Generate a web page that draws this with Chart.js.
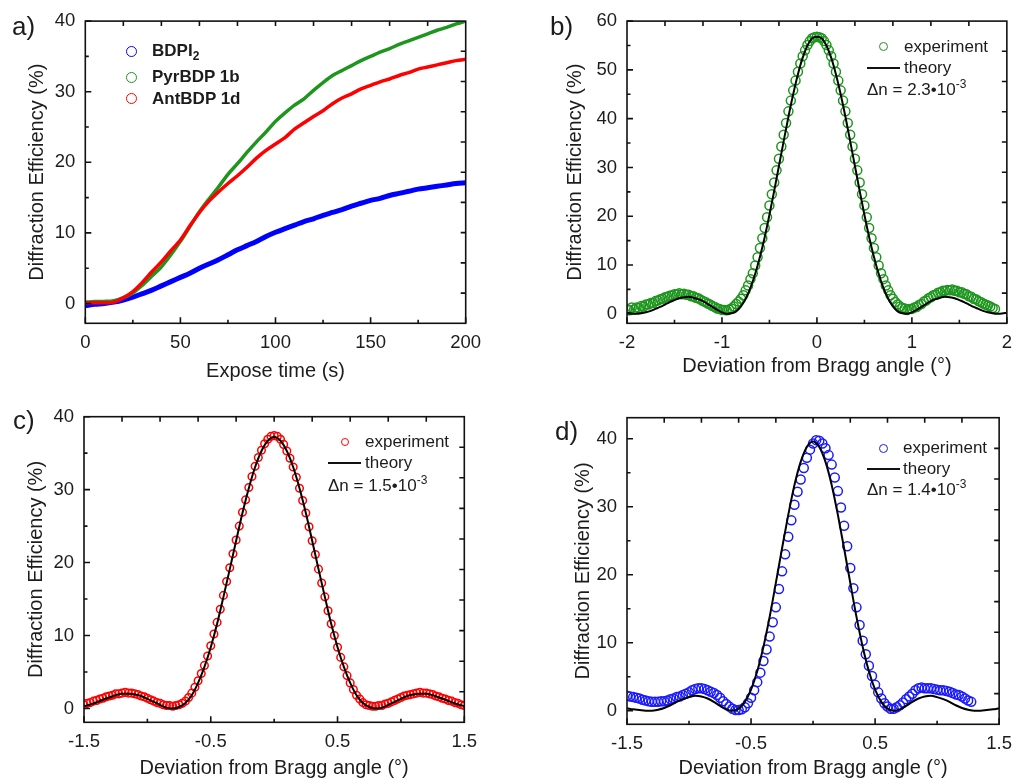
<!DOCTYPE html>
<html>
<head>
<meta charset="utf-8">
<title>Diffraction efficiency</title>
<script src="https://cdn.jsdelivr.net/npm/chart.js@4.4.1/dist/chart.umd.min.js"></script>
<style>
  body {
    margin: 0; width: 1021px; height: 779px; overflow: hidden; background: #fff;
    font-family: "Liberation Sans", Arial, sans-serif; color: #1c1c1c; position: relative;
  }
  canvas { position: absolute; }
  .tag { position: absolute; font-size: 26px; line-height: 26px; }
  .key { position: absolute; font-size: 17px; line-height: 20px; white-space: nowrap; }
  .bold { font-weight: bold; }
  .ring { position: absolute; box-sizing: border-box; border: 1.6px solid; border-radius: 50%; }
  .dash { position: absolute; height: 2.4px; background: #111; }
  sub { font-size: 12px; vertical-align: -4px; line-height: 0; }
  sup { font-size: 12px; vertical-align: 7px; line-height: 0; }
</style>
</head>
<body>
<canvas id="chartA" width="500" height="390" style="left:0;top:0"></canvas>
<canvas id="chartB" width="521" height="390" style="left:500px;top:0"></canvas>
<canvas id="chartC" width="500" height="400" style="left:0;top:390px"></canvas>
<canvas id="chartD" width="521" height="400" style="left:500px;top:390px"></canvas>

<div class="tag" style="left:12px;top:13px">a)</div>
<div class="tag" style="left:550px;top:13px">b)</div>
<div class="tag" style="left:13px;top:407px">c)</div>
<div class="tag" style="left:555px;top:418px">d)</div>

<!-- a) legend -->
<div class="ring" style="left:126px;top:46px;width:11px;height:11px;border-color:#0000ff"></div>
<div class="key bold" style="left:152px;top:41px">BDPI<sub>2</sub></div>
<div class="ring" style="left:126px;top:72px;width:11px;height:11px;border-color:#1e961e"></div>
<div class="key bold" style="left:152px;top:67px">PyrBDP 1b</div>
<div class="ring" style="left:126px;top:93px;width:11px;height:11px;border-color:#ff0000"></div>
<div class="key bold" style="left:152px;top:89px">AntBDP 1d</div>

<!-- b) legend -->
<div class="ring" style="left:879px;top:42px;width:9px;height:9px;border-color:#1e961e"></div>
<div class="key" style="left:904px;top:37px">experiment</div>
<div class="dash" style="left:867px;top:66.5px;width:33px"></div>
<div class="key" style="left:904px;top:58px">theory</div>
<div class="key" style="left:867px;top:80px">Δn = 2.3•10<sup>-3</sup></div>

<!-- c) legend -->
<div class="ring" style="left:341px;top:438px;width:8px;height:8px;border-color:#ff0000"></div>
<div class="key" style="left:365px;top:432px">experiment</div>
<div class="dash" style="left:328px;top:461.5px;width:33px"></div>
<div class="key" style="left:365px;top:453px">theory</div>
<div class="key" style="left:328px;top:476px">Δn = 1.5•10<sup>-3</sup></div>

<!-- d) legend -->
<div class="ring" style="left:879px;top:444px;width:9px;height:9px;border-color:#1a1aff"></div>
<div class="key" style="left:903px;top:438px">experiment</div>
<div class="dash" style="left:867px;top:468px;width:33px"></div>
<div class="key" style="left:903px;top:459px">theory</div>
<div class="key" style="left:867px;top:480px">Δn = 1.4•10<sup>-3</sup></div>

<script>
// ---- a) diffraction efficiency vs. exposure time ----
const exposeTime = [0, 5, 10, 15, 20, 25, 30, 35, 40, 45, 50, 55, 60, 65, 70, 75, 80, 85, 90, 95,
  100, 105, 110, 115, 120, 125, 130, 135, 140, 145, 150, 155, 160, 165, 170, 175, 180, 185, 190, 195, 200];
const bdpi2 = [-0.3, -0.1, 0.0, 0.2, 0.5, 0.9, 1.4, 1.9, 2.5, 3.1, 3.7, 4.3, 5.0, 5.6, 6.2, 6.9, 7.6, 8.2, 8.8, 9.5,
  10.1, 10.6, 11.1, 11.6, 12.0, 12.5, 12.9, 13.3, 13.8, 14.2, 14.6, 14.9, 15.3, 15.6, 15.9, 16.2, 16.4, 16.6, 16.8, 17.0, 17.1];
const pyrBDP = [0.2, 0.3, 0.3, 0.4, 0.85, 1.5, 2.6, 3.9, 5.2, 6.9, 8.8, 10.9, 13.0, 14.8, 16.5, 18.3, 19.8, 21.4, 22.9, 24.3,
  25.8, 27.0, 28.1, 29.0, 30.2, 31.3, 32.3, 33.0, 33.7, 34.4, 35.0, 35.6, 36.1, 36.7, 37.2, 37.7, 38.2, 38.7, 39.1, 39.6, 40.0];
const antBDP = [0.1, 0.1, 0.1, 0.2, 0.8, 1.7, 3.0, 4.5, 5.9, 7.5, 9.0, 11.0, 12.9, 14.5, 15.8, 17.0, 18.1, 19.3, 20.6, 21.7,
  22.6, 23.5, 24.7, 25.6, 26.5, 27.3, 28.3, 29.1, 29.7, 30.4, 30.9, 31.4, 31.8, 32.3, 32.7, 33.2, 33.5, 33.8, 34.1, 34.4, 34.6];

// ---- angular scans b), c), d) ----
// measured points sit on a 0.025° grid, theory on a 0.05° grid
const fineAngle = [
  -2, -1.975, -1.95, -1.925, -1.9, -1.875, -1.85, -1.825, -1.8, -1.775, -1.75, -1.725, -1.7, -1.675, -1.65, -1.625, -1.6, -1.575, -1.55, -1.525,
  -1.5, -1.475, -1.45, -1.425, -1.4, -1.375, -1.35, -1.325, -1.3, -1.275, -1.25, -1.225, -1.2, -1.175, -1.15, -1.125, -1.1, -1.075, -1.05, -1.025,
  -1, -0.975, -0.95, -0.925, -0.9, -0.875, -0.85, -0.825, -0.8, -0.775, -0.75, -0.725, -0.7, -0.675, -0.65, -0.625, -0.6, -0.575, -0.55, -0.525,
  -0.5, -0.475, -0.45, -0.425, -0.4, -0.375, -0.35, -0.325, -0.3, -0.275, -0.25, -0.225, -0.2, -0.175, -0.15, -0.125, -0.1, -0.075, -0.05, -0.025,
  0, 0.025, 0.05, 0.075, 0.1, 0.125, 0.15, 0.175, 0.2, 0.225, 0.25, 0.275, 0.3, 0.325, 0.35, 0.375, 0.4, 0.425, 0.45, 0.475,
  0.5, 0.525, 0.55, 0.575, 0.6, 0.625, 0.65, 0.675, 0.7, 0.725, 0.75, 0.775, 0.8, 0.825, 0.85, 0.875, 0.9, 0.925, 0.95, 0.975,
  1, 1.025, 1.05, 1.075, 1.1, 1.125, 1.15, 1.175, 1.2, 1.225, 1.25, 1.275, 1.3, 1.325, 1.35, 1.375, 1.4, 1.425, 1.45, 1.475,
  1.5, 1.525, 1.55, 1.575, 1.6, 1.625, 1.65, 1.675, 1.7, 1.725, 1.75, 1.775, 1.8, 1.825, 1.85, 1.875, 1.9, 1.925, 1.95, 1.975, 2];
const coarseAngle = [
  -2, -1.95, -1.9, -1.85, -1.8, -1.75, -1.7, -1.65, -1.6, -1.55, -1.5, -1.45, -1.4, -1.35, -1.3, -1.25, -1.2, -1.15, -1.1, -1.05,
  -1, -0.95, -0.9, -0.85, -0.8, -0.75, -0.7, -0.65, -0.6, -0.55, -0.5, -0.45, -0.4, -0.35, -0.3, -0.25, -0.2, -0.15, -0.1, -0.05,
  0, 0.05, 0.1, 0.15, 0.2, 0.25, 0.3, 0.35, 0.4, 0.45, 0.5, 0.55, 0.6, 0.65, 0.7, 0.75, 0.8, 0.85, 0.9, 0.95,
  1, 1.05, 1.1, 1.15, 1.2, 1.25, 1.3, 1.35, 1.4, 1.45, 1.5, 1.55, 1.6, 1.65, 1.7, 1.75, 1.8, 1.85, 1.9, 1.95, 2];

// b) PyrBDP 1b, from -2° (fine grid)
const bExperiment = [
  1.0, 0.7, 1.3, 0.9, 1.3, 1.2, 1.6, 1.5, 1.9, 1.9, 2.2, 2.2, 2.6, 2.7, 3.0, 3.1, 3.4, 3.5, 3.7, 3.8,
  4.0, 4.0, 4.2, 4.0, 4.1, 3.9, 3.9, 3.6, 3.6, 3.3, 3.2, 2.9, 2.6, 2.4, 2.1, 1.9, 1.6, 1.4, 1.1, 1.0,
  0.8, 0.8, 0.7, 0.9, 1.1, 1.5, 2.0, 2.5, 3.1, 3.8, 4.8, 5.8, 7.1, 8.3, 9.9, 11.6, 13.5, 15.5, 17.6, 19.8,
  22.2, 24.5, 26.9, 29.4, 31.8, 34.3, 36.7, 39.1, 41.5, 43.7, 45.8, 47.8, 49.6, 51.3, 52.8, 54.0, 55.1, 55.9, 56.5, 56.7,
  56.8, 56.7, 56.5, 55.9, 55.1, 54.0, 52.8, 51.3, 49.6, 47.8, 45.8, 43.7, 41.5, 39.1, 36.7, 34.3, 31.8, 29.4, 26.9, 24.5,
  22.2, 19.8, 17.6, 15.5, 13.5, 11.6, 9.9, 8.3, 7.1, 5.8, 4.8, 3.8, 3.1, 2.4, 1.9, 1.5, 1.2, 1.1, 0.8, 1.0,
  1.0, 1.3, 1.4, 1.8, 2.0, 2.5, 2.7, 3.2, 3.4, 3.8, 3.9, 4.3, 4.4, 4.7, 4.7, 4.9, 4.8, 5.0, 4.7, 4.7,
  4.4, 4.4, 4.1, 4.0, 3.6, 3.5, 3.1, 3.0, 2.6, 2.4, 2.1, 1.9, 1.7, 1.5, 1.2, 1.0];
const bTheory = [
  0.2, 0.05, 0.0, 0.1, 0.3, 0.6, 1.0, 1.4, 1.9, 2.4, 2.8, 3.2, 3.4, 3.5, 3.3, 3.0, 2.6, 2.0, 1.4, 0.8,
  0.3, 0.0, 0.1, 0.5, 1.5, 3.1, 5.3, 8.2, 11.7, 15.7, 20.3, 25.2, 30.3, 35.4, 40.4, 45.0, 49.1, 52.5, 55.0, 56.5,
  56.8, 56.5, 55.0, 52.5, 49.1, 45.0, 40.4, 35.4, 30.3, 25.2, 20.3, 15.7, 11.7, 8.2, 5.3, 3.1, 1.5, 0.5, 0.1, 0.0,
  0.3, 0.8, 1.4, 2.0, 2.6, 3.0, 3.3, 3.5, 3.4, 3.2, 2.8, 2.4, 1.9, 1.4, 1.0, 0.6, 0.3, 0.1, 0.0, 0.05, 0.2];

// c) AntBDP 1d, from -1.5°
const cExperiment = [
  0.5, 0.7, 0.8, 1.0, 1.1, 1.3, 1.4, 1.6, 1.7, 1.8, 2.0, 2.0, 2.1, 2.2, 2.1, 2.1, 2.0, 1.9, 1.7, 1.6,
  1.4, 1.2, 1.0, 0.8, 0.7, 0.5, 0.4, 0.4, 0.3, 0.4, 0.5, 0.7, 1.0, 1.5, 2.1, 2.9, 3.8, 4.8, 5.9, 7.2,
  8.6, 10.2, 11.8, 13.6, 15.5, 17.4, 19.3, 21.2, 23.1, 25.0, 26.9, 28.6, 30.3, 31.8, 33.2, 34.4, 35.4, 36.3, 36.9, 37.3,
  37.4, 37.3, 36.9, 36.2, 35.3, 34.3, 33.1, 31.7, 30.2, 28.5, 26.8, 24.9, 23.0, 21.1, 19.1, 17.2, 15.3, 13.4, 11.6, 10.0,
  8.4, 7.0, 5.7, 4.5, 3.5, 2.6, 1.8, 1.3, 0.8, 0.5, 0.4, 0.3, 0.3, 0.4, 0.4, 0.6, 0.7, 0.9, 1.1, 1.3,
  1.5, 1.7, 1.8, 1.9, 2.0, 2.1, 2.2, 2.1, 2.1, 2.0, 1.9, 1.7, 1.6, 1.4, 1.3, 1.1, 1.0, 0.8, 0.7, 0.5, 0.4];
const cTheory = [
  0.3, 0.55, 0.85, 1.2, 1.5, 1.8, 2.0, 2.0, 1.9, 1.7, 1.3, 0.9, 0.5, 0.1, 0.0, 0.2, 0.75, 1.8, 3.5, 5.7,
  8.4, 11.6, 15.3, 19.1, 23.0, 26.8, 30.2, 33.1, 35.3, 36.7, 37.2, 36.7, 35.3, 33.1, 30.2, 26.8, 23.0, 19.1, 15.3, 11.6,
  8.4, 5.7, 3.5, 1.8, 0.75, 0.2, 0.0, 0.1, 0.5, 0.9, 1.3, 1.7, 1.9, 2.0, 2.0, 1.8, 1.5, 1.2, 0.85, 0.55, 0.3];

// d) BDPI2, from -1.5°
const dExperiment = [
  2.2, 2.1, 2.0, 1.9, 1.8, 1.6, 1.5, 1.4, 1.3, 1.3, 1.3, 1.4, 1.4, 1.5, 1.7, 1.8, 2.0, 2.1, 2.3, 2.5,
  2.7, 3.0, 3.2, 3.3, 3.3, 3.2, 3.0, 2.8, 2.6, 2.3, 1.9, 1.4, 1.0, 0.6, 0.3, 0.1, 0.1, 0.2, 0.5, 1.1,
  1.9, 3.0, 4.2, 5.6, 7.3, 9.0, 10.9, 13.0, 15.2, 17.9, 20.5, 23.0, 25.6, 28.0, 30.3, 32.2, 34.0, 35.7, 37.2, 38.4,
  39.3, 39.8, 39.7, 39.3, 38.6, 37.6, 36.2, 34.3, 32.3, 29.9, 27.2, 24.2, 21.0, 18.0, 15.2, 12.6, 10.3, 8.3, 6.6, 5.1,
  3.8, 2.7, 1.8, 1.1, 0.6, 0.3, 0.3, 0.5, 0.8, 1.2, 1.7, 2.1, 2.5, 3.0, 3.3, 3.4, 3.3, 3.3, 3.3, 3.2,
  3.1, 3.0, 3.0, 2.9, 2.8, 2.6, 2.4, 2.3, 2.1, 1.8, 1.5, 1.3];
const dTheory = [
  0.35, 0.2, 0.1, 0.0, 0.0, 0.15, 0.4, 0.8, 1.3, 1.7, 2.0, 2.2, 2.1, 1.8, 1.3, 0.7, 0.2, 0.0, 0.3, 1.3,
  3.1, 5.8, 9.4, 13.8, 18.8, 23.9, 28.8, 33.2, 36.6, 38.8, 39.6, 38.8, 36.6, 33.2, 28.8, 23.9, 18.8, 13.8, 9.4, 5.8,
  3.1, 1.3, 0.3, 0.0, 0.2, 0.7, 1.3, 1.8, 2.1, 2.2, 2.0, 1.7, 1.3, 0.8, 0.4, 0.15, 0.0, 0.0, 0.1, 0.2, 0.35];

// axis ticks
const aTicksX = [0, 50, 100, 150, 200];
const aMinorX = [25, 75, 125, 175];
const bTicksX = [-2, -1, 0, 1, 2];
const bMinorX = [-1.5, -0.5, 0.5, 1.5];
const cdTicksX = [-1.5, -0.5, 0.5, 1.5];
const cdMinorX = [-1, 0, 1];
const ticks40 = [0, 10, 20, 30, 40];
const minor40 = [5, 15, 25, 35];
const ticks60 = [0, 10, 20, 30, 40, 50, 60];
const minor60 = [5, 15, 25, 35, 45, 55];

const FONT = '"Liberation Sans", Arial, sans-serif';
const INK = '#1c1c1c';
const BLUE = '#0000ff', GREEN = '#1e961e', RED = '#ff0000';

function toPoints(xs, ys) {
  return ys.map((y, i) => ({ x: xs[i], y: y }));
}

// black frame with inward ticks; top and right axes get plain ten-step ticks
const frameTicks = {
  id: 'frameTicks',
  afterDraw(chart, args, opts) {
    const { ctx, chartArea: { left, right, top, bottom }, scales: { x, y } } = chart;
    ctx.save();
    ctx.strokeStyle = '#111';
    ctx.lineWidth = 1.6;
    ctx.strokeRect(left, top, right - left, bottom - top);
    ctx.beginPath();
    const tickX = (v, len) => { const p = x.getPixelForValue(v); ctx.moveTo(p, bottom); ctx.lineTo(p, bottom - len); };
    const tickY = (v, len) => { const p = y.getPixelForValue(v); ctx.moveTo(left, p); ctx.lineTo(left + len, p); };
    opts.xMajor.forEach(v => tickX(v, 6));
    opts.xMinor.forEach(v => tickX(v, 3.5));
    opts.yMajor.forEach(v => tickY(v, 6));
    opts.yMinor.forEach(v => tickY(v, 3.5));
    for (let i = 1; i < 10; i++) {
      const px = left + (right - left) * i / 10;
      ctx.moveTo(px, top); ctx.lineTo(px, top + 5);
      const py = bottom - (bottom - top) * i / 10;
      ctx.moveTo(right, py); ctx.lineTo(right - 5, py);
    }
    ctx.stroke();
    ctx.restore();
  }
};

function makeChart(id, cfg) {
  const canvas = document.getElementById(id);
  const W = canvas.width, H = canvas.height;
  return new Chart(canvas, {
    type: 'scatter',
    data: { datasets: cfg.datasets },
    options: {
      responsive: false,
      animation: false,
      devicePixelRatio: 1,
      layout: { padding: { top: cfg.area.top, right: W - cfg.area.right, left: 0, bottom: 0 } },
      plugins: {
        legend: { display: false },
        tooltip: { enabled: false },
        frameTicks: { xMajor: cfg.xTicks, xMinor: cfg.xMinor, yMajor: cfg.yTicks, yMinor: cfg.yMinor }
      },
      scales: {
        x: {
          type: 'linear', min: cfg.xRange[0], max: cfg.xRange[1],
          afterFit: s => { s.height = H - cfg.area.bottom; },
          afterBuildTicks: s => { s.ticks = cfg.xTicks.map(v => ({ value: v })); },
          grid: { display: false, drawTicks: false },
          border: { display: false },
          ticks: { padding: 9, color: INK, maxRotation: 0, autoSkip: false,
                   font: { family: FONT, size: 18.5 }, callback: v => String(v) },
          title: { display: true, text: cfg.xTitle, color: INK,
                   font: { family: FONT, size: 20 }, padding: { top: 0, bottom: cfg.xTitlePad } }
        },
        y: {
          type: 'linear', min: cfg.yRange[0], max: cfg.yRange[1],
          afterFit: s => { s.width = cfg.area.left; },
          afterBuildTicks: s => { s.ticks = cfg.yTicks.map(v => ({ value: v })); },
          grid: { display: false, drawTicks: false },
          border: { display: false },
          ticks: { padding: 10, color: INK, autoSkip: false,
                   font: { family: FONT, size: 18.5 }, callback: v => String(v) },
          title: { display: true, text: 'Diffraction Efficiency (%)', color: INK,
                   font: { family: FONT, size: 20 }, padding: { top: cfg.yTitlePad, bottom: 0 } }
        }
      }
    },
    plugins: [frameTicks]
  });
}

function band(xs, ys, color, width) {
  return { data: toPoints(xs, ys), borderColor: color, backgroundColor: color, borderWidth: width,
           pointRadius: 0, showLine: true, tension: 0.3 };
}
function rings(xs, ys, color, r) {
  return { data: toPoints(xs, ys), borderColor: color, backgroundColor: 'transparent',
           pointRadius: r, pointBorderWidth: 1.5, showLine: false };
}
function theory(xs, ys) {
  return { data: toPoints(xs, ys), borderColor: '#000', borderWidth: 2, pointRadius: 0,
           showLine: true, cubicInterpolationMode: 'monotone' };
}

const angleTitle = 'Deviation from Bragg angle (°)';

makeChart('chartA', {
  area: { left: 85.3, right: 465.7, top: 18.3, bottom: 323.3 },
  xRange: [0, 200], yRange: [-2.8, 40],
  xTicks: aTicksX, xMinor: aMinorX, yTicks: ticks40, yMinor: minor40,
  xTitle: 'Expose time (s)', xTitlePad: 6.3, yTitlePad: 25.3,
  datasets: [
    band(exposeTime, antBDP, RED, 3.5),
    band(exposeTime, pyrBDP, GREEN, 3.5),
    band(exposeTime, bdpi2, BLUE, 5)
  ]
});

makeChart('chartB', {
  area: { left: 127, right: 507.7, top: 17.3, bottom: 323.3 },
  xRange: [-2, 2], yRange: [-1.95, 60],
  xTicks: bTicksX, xMinor: bMinorX, yTicks: ticks60, yMinor: minor60,
  xTitle: angleTitle, xTitlePad: 11.3, yTitlePad: 63,
  datasets: [
    theory(coarseAngle, bTheory),
    rings(fineAngle, bExperiment, GREEN, 4.5)
  ]
});

makeChart('chartC', {
  area: { left: 84, right: 464.3, top: 26.7, bottom: 332.3 },
  xRange: [-1.5, 1.5], yRange: [-1.9, 40],
  xTicks: cdTicksX, xMinor: cdMinorX, yTicks: ticks40, yMinor: minor40,
  xTitle: angleTitle, xTitlePad: 9.7, yTitlePad: 24.7,
  datasets: [
    theory(coarseAngle.slice(10), cTheory),
    rings(fineAngle.slice(20), cExperiment, RED, 3.8)
  ]
});

makeChart('chartD', {
  area: { left: 127, right: 507.7, top: 27.7, bottom: 334.3 },
  xRange: [-1.5, 1.5], yRange: [-2, 43.1],
  xTicks: cdTicksX, xMinor: cdMinorX, yTicks: ticks40, yMinor: minor40,
  xTitle: angleTitle, xTitlePad: 10, yTitlePad: 71.3,
  datasets: [
    theory(coarseAngle.slice(10), dTheory),
    rings(fineAngle.slice(20), dExperiment, '#1a1aff', 4.5)
  ]
});
</script>
</body>
</html>
